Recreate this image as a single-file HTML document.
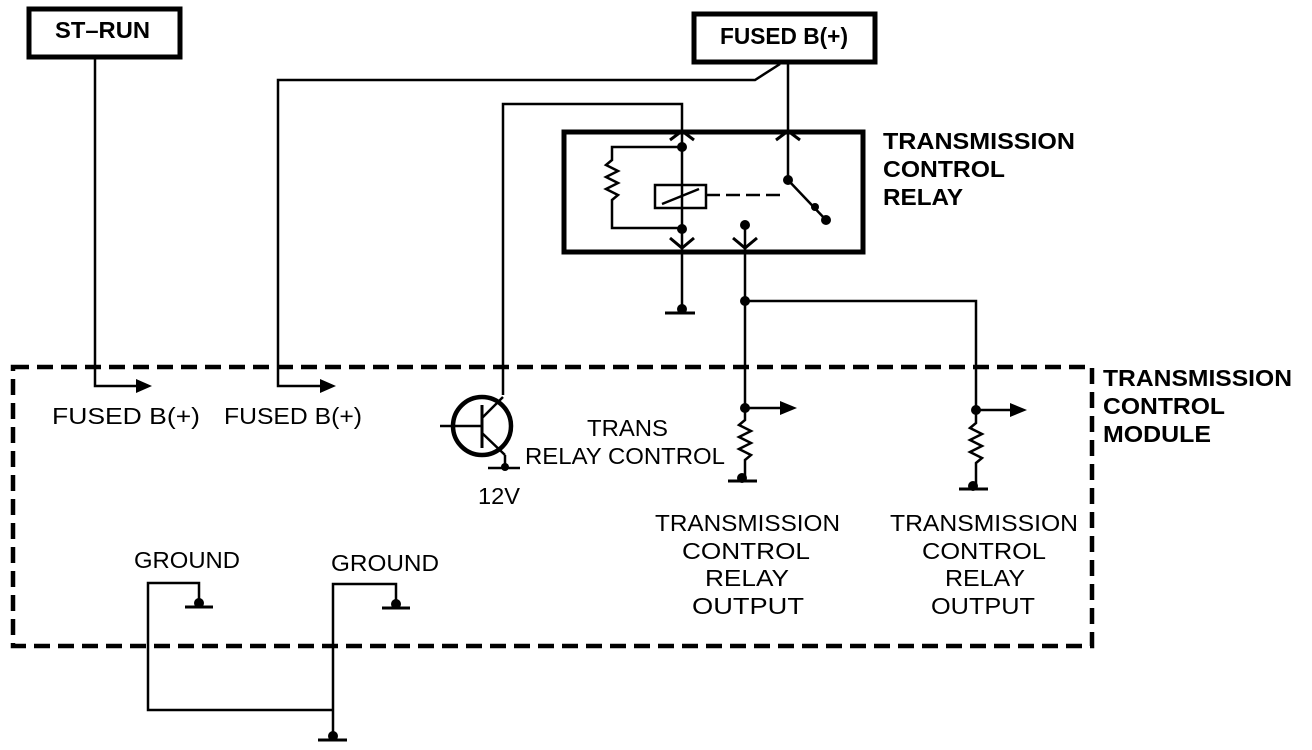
<!DOCTYPE html>
<html><head><meta charset="utf-8"><style>
html,body{margin:0;padding:0;background:#fff}
svg{display:block}
text{font-family:"Liberation Sans",Arial,sans-serif;fill:#000}
.b{font-weight:bold}
</style></head><body>
<svg width="1312" height="750" viewBox="0 0 1312 750" xmlns="http://www.w3.org/2000/svg">
<g fill="none" stroke="#000" stroke-width="2.5">
<rect x="29" y="9" width="151" height="48" stroke-width="5"/>
<rect x="694" y="14" width="181" height="48" stroke-width="5"/>
<rect x="564" y="132" width="299" height="120" stroke-width="5"/>
<rect x="13" y="367" width="1079" height="279" stroke-width="4.5" stroke-dasharray="16,8"/>
<polyline points="95,57 95,386 138,386"/>
<polyline points="780,64 755,80 278,80 278,386 322,386"/>
<polyline points="788,62 788,180"/>
<line x1="788" y1="180" x2="826" y2="220"/>
<polyline points="503,395 503,104 682,104 682,229"/>
<polyline points="682,147 612,147 612,160 606,165 618,171 606,177 618,183 606,189 618,195 612,200 612,228 682,228"/>
<rect x="655" y="185" width="51" height="23"/>
<line x1="662" y1="204" x2="699" y2="189"/>
<line x1="706" y1="195" x2="785" y2="195" stroke-dasharray="14,6"/>
<line x1="682" y1="229" x2="682" y2="312"/>
<line x1="745" y1="225" x2="745" y2="410"/>
<polyline points="745,301 976,301 976,410"/>
<polyline points="670,140 682,131 694,140" stroke-width="3"/>
<polyline points="776,140 788,131 800,140" stroke-width="3"/>
<polyline points="670,238 682,248 694,238" stroke-width="3"/>
<polyline points="733,238 745,248 757,238" stroke-width="3"/>
<line x1="665" y1="313" x2="695" y2="313" stroke-width="3"/>
<line x1="745" y1="408" x2="782" y2="408"/>
<polyline points="745,408 745,420 739,425 751,431 739,437 751,443 739,449 751,455 745,460 745,478"/>
<line x1="728" y1="481" x2="757" y2="481" stroke-width="3"/>
<line x1="976" y1="410" x2="1012" y2="410"/>
<polyline points="976,410 976,423 970,428 982,434 970,440 982,446 970,452 982,458 976,463 976,486"/>
<line x1="959" y1="489" x2="988" y2="489" stroke-width="3"/>
<circle cx="482" cy="426" r="29" stroke-width="4.5"/>
<line x1="440" y1="426" x2="482" y2="426"/>
<line x1="482" y1="405" x2="482" y2="448" stroke-width="3"/>
<line x1="482" y1="418" x2="503" y2="397"/>
<line x1="482" y1="433" x2="505" y2="455"/>
<line x1="505" y1="455" x2="505" y2="467"/>
<line x1="488" y1="468" x2="520" y2="468"/>
<polyline points="199,600 199,583 148,583 148,710 333,710"/>
<polyline points="396,602 396,584 333,584 333,735"/>
<line x1="185" y1="607" x2="213" y2="607" stroke-width="3"/>
<line x1="382" y1="608" x2="410" y2="608" stroke-width="3"/>
<line x1="318" y1="740" x2="347" y2="740" stroke-width="3"/>
</g>
<g fill="#000">
<polygon points="136,379 152,386 136,393"/>
<polygon points="320,379 336,386 320,393"/>
<polygon points="780,401 797,408 780,415"/>
<polygon points="1010,403 1027,410 1010,417"/>
<circle cx="682" cy="147" r="5"/>
<circle cx="682" cy="229" r="5"/>
<circle cx="745" cy="225" r="5"/>
<circle cx="788" cy="180" r="5"/>
<circle cx="815" cy="207" r="4"/>
<circle cx="826" cy="220" r="5"/>
<circle cx="745" cy="301" r="5"/>
<circle cx="745" cy="408" r="5"/>
<circle cx="976" cy="410" r="5"/>
<circle cx="682" cy="309" r="5"/>
<circle cx="742" cy="478" r="5"/>
<circle cx="973" cy="486" r="5"/>
<circle cx="505" cy="467" r="4"/>
<circle cx="199" cy="603" r="5"/>
<circle cx="396" cy="604" r="5"/>
<circle cx="333" cy="736" r="5"/>
</g>
<g font-size="23">
<text x="55" y="38" class="b" textLength="95" lengthAdjust="spacingAndGlyphs">ST–RUN</text>
<text x="720" y="44" class="b" textLength="128" lengthAdjust="spacingAndGlyphs">FUSED B(+)</text>
<text x="883" y="149" class="b" textLength="192" lengthAdjust="spacingAndGlyphs">TRANSMISSION</text>
<text x="883" y="177" class="b" textLength="122" lengthAdjust="spacingAndGlyphs">CONTROL</text>
<text x="883" y="205" class="b" textLength="80" lengthAdjust="spacingAndGlyphs">RELAY</text>
<text x="1103" y="386" class="b" textLength="189" lengthAdjust="spacingAndGlyphs">TRANSMISSION</text>
<text x="1103" y="414" class="b" textLength="122" lengthAdjust="spacingAndGlyphs">CONTROL</text>
<text x="1103" y="442" class="b" textLength="108" lengthAdjust="spacingAndGlyphs">MODULE</text>
<text x="52" y="424" textLength="148" lengthAdjust="spacingAndGlyphs">FUSED B(+)</text>
<text x="224" y="424" textLength="138" lengthAdjust="spacingAndGlyphs">FUSED B(+)</text>
<text x="587" y="436" textLength="81" lengthAdjust="spacingAndGlyphs">TRANS</text>
<text x="525" y="464" textLength="200" lengthAdjust="spacingAndGlyphs">RELAY CONTROL</text>
<text x="478" y="504" textLength="42" lengthAdjust="spacingAndGlyphs">12V</text>
<text x="655" y="531" textLength="185" lengthAdjust="spacingAndGlyphs">TRANSMISSION</text>
<text x="682" y="559" textLength="128" lengthAdjust="spacingAndGlyphs">CONTROL</text>
<text x="705" y="586" textLength="84" lengthAdjust="spacingAndGlyphs">RELAY</text>
<text x="692" y="614" textLength="112" lengthAdjust="spacingAndGlyphs">OUTPUT</text>
<text x="890" y="531" textLength="188" lengthAdjust="spacingAndGlyphs">TRANSMISSION</text>
<text x="922" y="559" textLength="124" lengthAdjust="spacingAndGlyphs">CONTROL</text>
<text x="945" y="586" textLength="80" lengthAdjust="spacingAndGlyphs">RELAY</text>
<text x="931" y="614" textLength="104" lengthAdjust="spacingAndGlyphs">OUTPUT</text>
<text x="134" y="568" textLength="106" lengthAdjust="spacingAndGlyphs">GROUND</text>
<text x="331" y="571" textLength="108" lengthAdjust="spacingAndGlyphs">GROUND</text>
</g>
</svg>
</body></html>
